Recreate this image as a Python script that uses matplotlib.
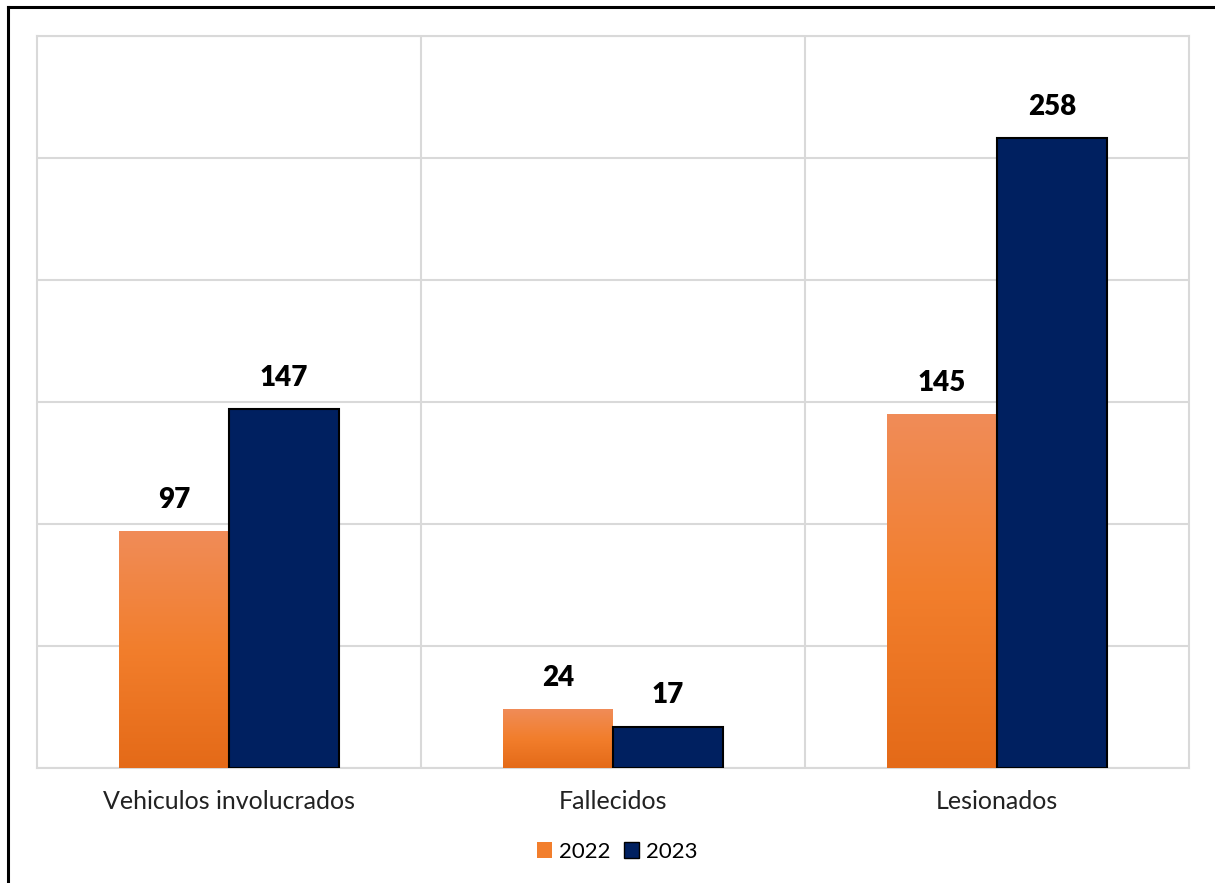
import numpy as np
import matplotlib.pyplot as plt
from matplotlib.colors import LinearSegmentedColormap
from matplotlib.patches import Patch
from matplotlib.lines import Line2D

categories = ["Vehiculos involucrados", "Fallecidos", "Lesionados"]
series_names = ["2022", "2023"]
values_2022 = [97, 24, 145]
values_2023 = [147, 17, 258]

plt.rcParams['font.family'] = ['Lato', 'DejaVu Sans']

ORANGE_TOP = "#F08C58"
ORANGE_MID = "#F27E2C"
ORANGE_BOT = "#E46A18"
NAVY = "#002060"

fig = plt.figure(figsize=(12.15, 8.83), dpi=100)
ax = fig.add_axes([37 / 1215, 1 - 768 / 883, (1189 - 37) / 1215, (768 - 36) / 883])

x = np.arange(len(categories))
w = 0.286

# orange bars get a vertical gradient, light at top
grad = LinearSegmentedColormap.from_list("og", [ORANGE_BOT, ORANGE_MID, ORANGE_TOP])
img = np.linspace(0, 1, 256).reshape(-1, 1)

bars_a = ax.bar(x - w / 2, values_2022, w, color=ORANGE_MID, zorder=3)
for b in bars_a:
    b.set_facecolor("none")
    x0, y0 = b.get_x(), b.get_y()
    im = ax.imshow(img, cmap=grad, aspect="auto", origin="lower",
                   extent=[x0, x0 + b.get_width(), y0, y0 + b.get_height()], zorder=3)
    im.set_clip_path(b)

bars_b = ax.bar(x + w / 2, values_2023, w, color=NAVY, edgecolor="black", linewidth=1.5, zorder=4)

for bars, vals in [(bars_a, values_2022), (bars_b, values_2023)]:
    for b, v in zip(bars, vals):
        ax.annotate(str(v), (b.get_x() + b.get_width() / 2, b.get_height()),
                    xytext=(0, 13), textcoords="offset points", ha="center", va="bottom",
                    fontsize=20, fontweight="heavy", color="black")

ax.set_xlim(-0.5, 2.5)
ax.set_ylim(0, 300)
ax.set_yticks(np.arange(0, 301, 50))
ax.set_xticks([0.5, 1.5], minor=True)
ax.set_xticks(x)
ax.set_xticklabels(categories, fontsize=18, color="#222222")
ax.tick_params(axis="x", which="both", length=0, pad=16)
ax.tick_params(axis="y", length=0, labelleft=False)
ax.grid(axis="y", color="#D9D9D9", linewidth=1.5, zorder=0)
ax.grid(axis="x", which="minor", color="#D9D9D9", linewidth=1.5, zorder=0)
ax.set_axisbelow(True)
for s in ax.spines.values():
    s.set_color("#D9D9D9")
    s.set_linewidth(1.5)

handles = [Patch(facecolor=ORANGE_MID, edgecolor="none", label="2022"),
           Patch(facecolor=NAVY, edgecolor="black", label="2023")]
fig.legend(handles=handles, loc="center", bbox_to_anchor=(617 / 1215, 1 - 852 / 883),
           ncol=2, frameon=False, fontsize=16, handlelength=0.7, handleheight=0.7,
           handletextpad=0.3, columnspacing=0.6)

# outer border (only left and top edges are visible)
fig.add_artist(Line2D([8 / 1215, 8 / 1215], [0, 1 - 7 / 883], color="black", linewidth=2.2))
fig.add_artist(Line2D([8 / 1215, 1], [1 - 7 / 883, 1 - 7 / 883], color="black", linewidth=2.2))

fig.savefig("out.png", dpi=100)
